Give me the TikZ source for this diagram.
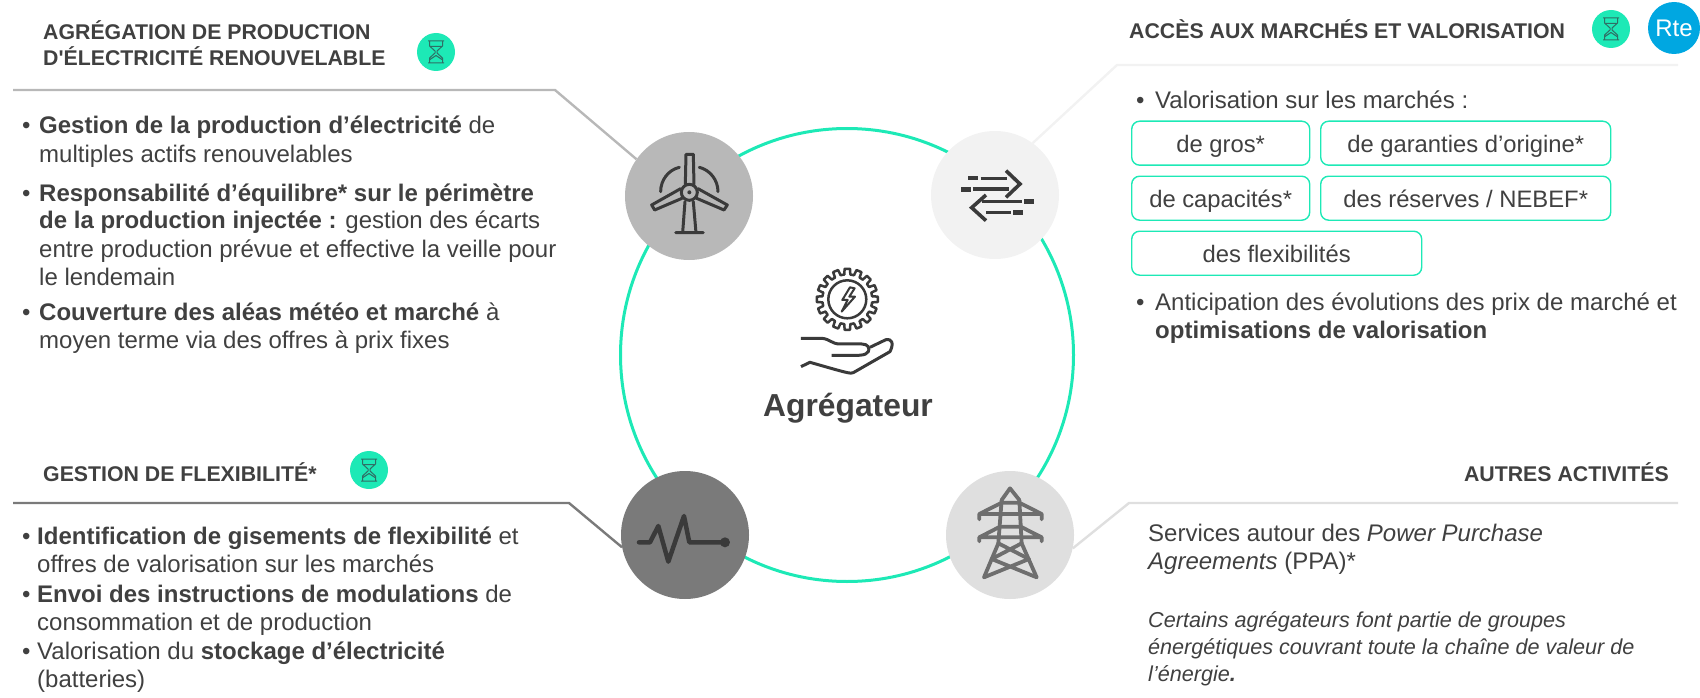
\documentclass[tikz,border=0pt]{standalone}
\usepackage{fontspec}
\setmainfont{Liberation Sans}
\newfontfamily\plainfam{Liberation Sans}
\definecolor{mint}{HTML}{1DE9B6}
\definecolor{ink}{HTML}{404040}
\definecolor{icon}{HTML}{3A3A3A}
\definecolor{pyl}{HTML}{6E6E6E}
\definecolor{glass}{HTML}{2F6F66}
\definecolor{rteblue}{HTML}{00A7E1}
\tikzset{
 body/.style={anchor=base west,inner sep=0pt,text=ink,font=\fontsize{24}{28}\selectfont},
 ital/.style={anchor=base west,inner sep=0pt,text=ink,font=\fontsize{21.6}{26}\selectfont\itshape},
 head/.style={anchor=base west,inner sep=0pt,text=ink,font=\fontsize{21.3}{26}\selectfont\bfseries},
 dotmark/.style={anchor=base west,inner sep=0pt,text=ink,font=\fontsize{24}{28}\selectfont},
 disc/.style={circle,inner sep=0pt,minimum size=128pt,fill=#1},
 pill/.style={draw=mint,line width=1.4pt,rounded corners=8pt,inner sep=0pt,anchor=north west,text=ink,font=\fontsize{23.8}{28}\selectfont,text height=23pt,text depth=5pt},
 badge/.style={circle,inner sep=0pt,minimum size=38pt,fill=mint},
 ic/.style={draw=icon,line width=3pt,line cap=round,line join=round},
 hourglass/.pic={
  \draw[glass,line width=1pt,line join=round]
   (-8,-11)--(8,-11) (-8,11)--(8,11)
   (-6.5,-11)--(-6.5,-6)--(-1,-1)--(-1,1)--(-6.5,6)--(-6.5,11)
   (6.5,-11)--(6.5,-6)--(1,-1)--(1,1)--(6.5,6)--(6.5,11)
   (-6,7.5)--(0,3.5)--(6,7.5) (-6.5,-5.5)--(6.5,-5.5);
 }
}
\begin{document}
\begin{tikzpicture}[x=1pt,y=-1pt]
\useasboundingbox (0,0) rectangle (1700,698);
% ring
\node[circle,draw=mint,line width=3pt,inner sep=0pt,minimum size=453pt] (ring) at (847,355) {};
% discs
\node[disc=black!28!white] (wind) at (689,196) {};
\node[disc=black!5!white] (flow) at (995,195) {};
\node[disc=black!52!white] (flex) at (685,535) {};
\node[disc=black!12.5!white] (pylon) at (1010,535) {};
% leader lines
\coordinate (wa) at (13,90); \coordinate (wb) at (555,90);
\coordinate (fa) at (13,503); \coordinate (fb) at (569,503);
\coordinate (ma) at (1678,65); \coordinate (mb) at (1117,65);
\coordinate (pa) at (1678,503); \coordinate (pb) at (1129,503);
\draw[black!28!white,line width=2.4pt] (wa)--(wb)--(wind.145);
\draw[black!52!white,line width=2.4pt] (fa)--(fb)--(flex.191);
\draw[black!5!white,line width=2.4pt] (ma)--(mb)--(flow.54);
\draw[black!12.5!white,line width=2.4pt] (pa)--(pb)--(pylon.-12);
% badges
\node[badge] (b1) at (436,52) {}; \pic at (b1) {hourglass};
\node[badge] (b2) at (369,470) {}; \pic at (b2) {hourglass};
\node[badge] (b3) at (1611,29) {}; \pic at (b3) {hourglass};
\node[circle,inner sep=0pt,minimum size=52pt,fill=rteblue,text=white,font=\fontsize{24}{26}\selectfont] (rte) at (1674,28) {Rte};
% centre
\node[inner sep=0pt,text=ink,font=\fontsize{31.8}{36}\selectfont\bfseries,anchor=base] (agg) at (848,416) {Agrégateur};
% headers
\node[head] (h1) at (43,39.5) {AGRÉGATION DE PRODUCTION};
\node[head] (h2) at (43,65.5) {\plainfam\bfseries D'ÉLECTRICITÉ RENOUVELABLE};
\node[head] (h3) at (43,481) {GESTION DE FLEXIBILITÉ*};
\node[head] (h4) at (1129,38.5) {ACCÈS AUX MARCHÉS ET VALORISATION};
\node[head,anchor=base east] (h5) at (1669,481) {AUTRES ACTIVITÉS};
% left top
\node[dotmark] (d1) at (22,134) {•};
\node[body] (t1) at (39,134) {\textbf{Gestion de la production d’électricité} de};
\node[body] (t2) at (39,162) {multiples actifs renouvelables};
\node[dotmark] (d2) at (22,201) {•};
\node[body] (t3) at (39,201) {\textbf{Responsabilité d’équilibre* sur le périmètre}};
\node[body] (t4) at (39,228) {\textbf{de la production injectée :} gestion des écarts};
\node[body] (t5) at (39,257) {entre production prévue et effective la veille pour};
\node[body] (t6) at (39,285) {le lendemain};
\node[dotmark] (d3) at (22,320) {•};
\node[body] (t7) at (39,320) {\textbf{Couverture des aléas météo et marché} à};
\node[body] (t8) at (39,348.5) {moyen terme via des offres à prix fixes};
% left bottom
\node[dotmark] (d4) at (22,544.5) {•};
\node[body] (u1) at (37,544.5) {\textbf{Identification de gisements de flexibilité} et};
\node[body] (u2) at (37,572.5) {offres de valorisation sur les marchés};
\node[dotmark] (d5) at (22,602) {•};
\node[body] (u3) at (37,602) {\textbf{Envoi des instructions de modulations} de};
\node[body] (u4) at (37,630) {consommation et de production};
\node[dotmark] (d6) at (22,659) {•};
\node[body] (u5) at (37,659) {Valorisation du \textbf{stockage d’électricité}};
\node[body] (u6) at (37,687.3) {(batteries)};
% right top
\node[dotmark] (d7) at (1136,108.5) {•};
\node[body] (v1) at (1155,108.5) {Valorisation sur les marchés :};
\node[pill,minimum width=178pt,minimum height=44pt] (p1) at (1131,120.5) {de gros*};
\node[pill,minimum width=290pt,minimum height=44pt] (p2) at (1320,120.5) {de garanties d’origine*};
\node[pill,minimum width=178pt,minimum height=44pt] (p3) at (1131,175.5) {de capacités*};
\node[pill,minimum width=290pt,minimum height=44pt] (p4) at (1320,175.5) {des réserves / NEBEF*};
\node[pill,minimum width=290pt,minimum height=44pt] (p5) at (1131,230.5) {des flexibilités};
\node[dotmark] (d8) at (1136,310.5) {•};
\node[body] (v2) at (1155,310.5) {Anticipation des évolutions des prix de marché et};
\node[body] (v3) at (1155,338.5) {\textbf{optimisations de valorisation}};
% right bottom
\node[body] (w1) at (1148,541) {Services autour des \textit{Power Purchase}};
\node[body] (w2) at (1148,569) {\textit{Agreements} (PPA)*};
\node[ital] (w3) at (1148,627.7) {Certains agrégateurs font partie de groupes};
\node[ital] (w4) at (1148,654.8) {énergétiques couvrant toute la chaîne de valeur de};
\node[ital] (w5) at (1148,681.9) {l’énergie\textbf{.}};
% wind icon
\begin{scope}[shift={(560,90)},x=.3333pt,y=-.3333pt]
 \draw[ic] (388,307) circle[radius=24];
 \fill[icon] (388,307) circle[radius=6];
 \draw[ic] (376,283)--(378,193)--(400,193)--(402,283);
 \draw[ic] (362,296)--(275,345)--(284,360)--(366,325);
 \draw[ic] (414,296)--(502,345)--(492,360)--(410,325);
 \draw[ic] (375,335)--(368,428) (400,335)--(408,428) (347,428)--(430,428);
 \draw[ic] (302,305) .. controls (302,270) and (325,240) .. (358,232);
 \draw[ic] (474,305) .. controls (474,270) and (450,240) .. (418,232);
\end{scope}
% gear and hand
\begin{scope}[shift={(560,90)},x=.3333pt,y=-.3333pt]
 \draw[ic,line width=2.5pt] (862,628) circle[radius=57];
 \begin{scope}[shift={(862,628)}]
 \foreach \a in {0,22.5,...,337.5}
  \draw[ic,line width=2.5pt] (\a-7:75)--(\a-5:92)--(\a+5:92)--(\a+7:75)--(\a+15.5:75);
 \end{scope}
 \draw[ic,line width=2pt] (870,592)--(847,630)--(863,630)--(845,665)--(885,620)--(868,620)--(884,595)--cycle;
 \draw[ic,line cap=butt] (723,745)--(785,745) .. controls (810,747) and (815,762) .. (840,762) -- (905,762) .. controls (925,762) and (930,775) .. (925,785) .. controls (915,798) and (905,797) .. (815,796);
 \draw[ic,line cap=butt] (930,772)--(978,749) .. controls (995,745) and (1003,760) .. (990,785) -- (880,848) .. controls (872,852) and (865,850) .. (750,817)--(723,830);
\end{scope}
% flow icon
\begin{scope}[shift={(920,120)},x=.3333pt,y=-.3333pt]
 \draw[ic,line cap=butt,line width=3.6pt] (182,175)--(262,175) (158,207)--(268,207);
 \draw[ic,line cap=butt,line join=miter,line width=3.6pt] (258,152)--(300,192)--(258,232);
 \draw[ic,line cap=butt,line width=4.5pt] (145,174)--(173,174) (123,208)--(153,208) (312,245)--(342,245) (279,278)--(308,278);
 \draw[ic,line cap=butt,line width=3.6pt] (185,245)--(305,245) (198,278)--(272,278);
 \draw[ic,line cap=butt,line join=miter,line width=3.6pt] (198,225)--(155,263)--(198,302);
\end{scope}
% pylon icon
\begin{scope}[shift={(930,460)},x=.3333pt,y=-.3333pt]
 \begin{scope}[pyl,line width=3.8pt,line cap=round,line join=round]
 \draw (215,120)--(240,85)--(268,120);
 \draw (215,120)--(205,250)--(162,352);
 \draw (268,120)--(275,250)--(320,352);
 \draw (148,178)--(148,162)--(215,128)--(268,128)--(335,162)--(335,178) (148,162)--(335,162);
 \draw (148,244)--(148,232)--(210,200)--(272,200)--(335,232)--(335,244) (148,232)--(335,232);
 \draw (205,250)--(297,297)--(162,352) (275,250)--(185,297)--(320,352);
 \end{scope}
\end{scope}
% pulse icon
\begin{scope}[shift={(560,420)},x=.3333pt,y=-.3333pt]
 \draw[ic,line width=4.5pt] (237,367)--(270,367)--(295,318)--(325,425)--(372,288)--(388,367)--(495,367);
 \fill[icon] (495,367) circle[radius=15];
\end{scope}
\end{tikzpicture}
\end{document}
